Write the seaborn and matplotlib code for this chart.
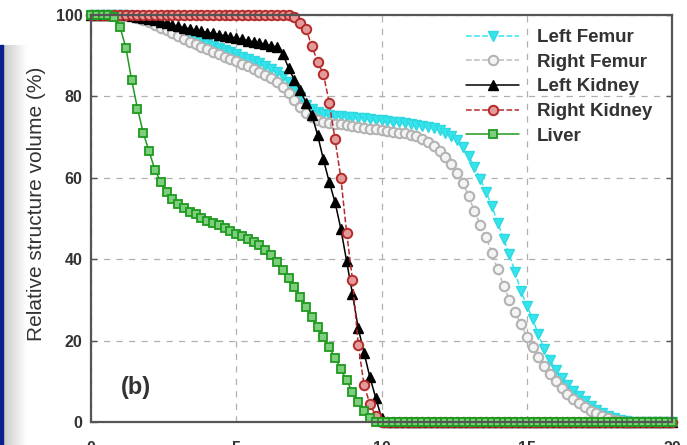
import numpy as np
import pandas as pd
import matplotlib
matplotlib.use("Agg")
import matplotlib.pyplot as plt
from matplotlib.patches import Rectangle
import seaborn as sns

# ---- data (dose in Gy, relative volume in %) ----
dose = np.round(np.arange(101) * 0.2, 1)

left_femur = [100, 100, 100, 100, 100, 100, 100, 99.8, 99.5, 99,
              98.5, 98, 97.4, 96.8, 96.2, 95.6, 95, 94.4, 93.8, 93.3,
              92.8, 92.3, 91.8, 91.3, 90.8, 90.3, 89.8, 89.2, 88.7, 88.1,
              87.5, 86.8, 86, 85, 83.6, 81.8, 79.8, 78, 76.8, 76.1,
              75.7, 75.4, 75.2, 75.1, 75, 74.9, 74.8, 74.6, 74.5, 74.3,
              74.2, 74, 73.8, 73.6, 73.4, 73.2, 73, 72.8, 72.6, 72.2,
              71.7, 71.1, 70.3, 69.2, 67.6, 65.3, 62.7, 59.8, 56.5, 53,
              49, 45, 41.2, 36.8, 32.2, 28.6, 25.4, 21.5, 18, 15.2,
              12.8, 10.8, 9.1, 7.6, 6.3, 5.1, 4, 3, 2.2, 1.5,
              1, 0.5, 0.2, 0.1, 0, 0, 0, 0, 0, 0, 0]

right_femur = [100, 100, 100, 100, 100, 100, 100, 99.7, 99.3, 98.8,
               98.2, 97.6, 96.9, 96.2, 95.5, 94.8, 94.1, 93.4, 92.8, 92.2,
               91.6, 91, 90.4, 89.8, 89.2, 88.6, 88, 87.4, 86.7, 86,
               85.3, 84.5, 83.5, 82.3, 80.8, 79, 77.4, 76, 75, 74.3,
               73.8, 73.5, 73.3, 73.1, 72.9, 72.7, 72.5, 72.3, 72.1, 71.9,
               71.7, 71.5, 71.3, 71.1, 70.9, 70.6, 70.2, 69.6, 68.8, 67.8,
               66.7, 65.2, 63.5, 61.3, 58.7, 55.5, 51.8, 48.5, 45.5, 41.5,
               37.5, 33.5, 30, 27, 24, 21, 18.5, 16, 13.8, 11.8,
               10, 8.3, 6.9, 5.6, 4.6, 3.6, 2.8, 2.1, 1.5, 1,
               0.6, 0.3, 0.1, 0, 0, 0, 0, 0, 0, 0, 0]

left_kidney = [100, 100, 100, 100, 100, 100, 99.9, 99.8, 99.6, 99.3,
               99, 98.7, 98.3, 98, 97.6, 97.2, 96.9, 96.6, 96.3, 96,
               95.7, 95.5, 95.2, 94.9, 94.6, 94.3, 94, 93.7, 93.4, 93.1,
               92.8, 92.5, 92.1, 90.5, 87, 84, 81.5, 78.5, 75.5, 70.5,
               64.5, 59, 54, 47.5, 39.5, 31.5, 23, 17, 11, 6,
               1] + [0] * 50

right_kidney = [100] * 35 + [99.5, 98, 96.5, 92.5, 88.5, 85.5, 78.5, 69.5, 60, 46.5,
                             35, 19, 9, 4.5, 1.5] + [0] * 51

liver = [100, 100, 100, 100, 99.5, 97, 92, 84, 77, 71,
         66.5, 62, 59, 56.5, 54.7, 53.5, 52.5, 51.7, 51, 50.2,
         49.5, 48.9, 48.3, 47.6, 47, 46.3, 45.6, 45, 44.3, 43.4,
         42.3, 41, 39.4, 37.4, 35.3, 33.1, 30.8, 28.3, 25.8, 23.3,
         20.9, 18.4, 15.8, 13, 10.2, 7.4, 4.9, 2.6, 0.9, 0.1] + [0] * 51

labels = ["Left Femur", "Right Femur", "Left Kidney", "Right Kidney", "Liver"]
series = [left_femur, right_femur, left_kidney, right_kidney, liver]
x_ticks = [0, 5, 10, 15, 20]
y_ticks = [0, 20, 40, 60, 80, 100]

styles = [
    dict(color="#35e4ec", marker="v", linestyle="--", mfc="#35e4ec", mec="#2ed8e0", mew=1.0, ms=6.8),
    dict(color="#bdbdbd", marker="o", linestyle="--", mfc="#f4f4f4", mec="#b3b3b3", mew=1.5, ms=6.8),
    dict(color="black", marker="^", linestyle="-", mfc="black", mec="black", mew=1.0, ms=6.5),
    dict(color="#b52a2a", marker="o", linestyle="--", mfc="#e39a9a", mec="#b52a2a", mew=1.4, ms=6.8),
    dict(color="#1e9a1e", marker="s", linestyle="-", mfc="#7fce7f", mec="#1e9a1e", mew=1.3, ms=6.0),
]

sns.set_style("white")
plt.rcParams["font.family"] = ["Liberation Sans", "DejaVu Sans"]

fig = plt.figure(figsize=(6.87, 4.45), dpi=100)

# slide border decoration on the left (drawn behind everything)
grad_ax = fig.add_axes([0, 0, 26 / 687, 400 / 445])
grad = np.linspace(0.76, 1.0, 64).reshape(1, -1)
grad_ax.imshow(grad, cmap="gray", vmin=0, vmax=1, aspect="auto", extent=[0, 1, 0, 1])
grad_ax.set_axis_off()
grad_ax.set_zorder(0)
fig.patches.append(Rectangle((0, 0), 3 / 687, 400 / 445, transform=fig.transFigure,
                             color="#0b1f8f", zorder=0.5))

ax = fig.add_axes([91 / 687, 1 - 422 / 445, (672 - 91) / 687, (422 - 15) / 445])
ax.set_zorder(2)
ax.patch.set_alpha(0)

for lab, vals, st in zip(labels, series, styles):
    df = pd.DataFrame({"dose": dose, "vol": vals})
    sns.lineplot(data=df, x="dose", y="vol", ax=ax, label=lab, color=st["color"],
                 marker=st["marker"], linestyle=st["linestyle"], linewidth=1.1,
                 markerfacecolor=st["mfc"], markeredgecolor=st["mec"],
                 markeredgewidth=st["mew"], markersize=st["ms"], clip_on=False,
                 estimator=None, sort=False)

ax.set_xlim(0, 20)
ax.set_ylim(0, 100)
ax.set_xticks(x_ticks)
ax.set_yticks(y_ticks)
ax.set_xticklabels([str(t) for t in x_ticks], fontsize=11.5, fontweight="bold", color="#333333")
ax.set_yticklabels([str(t) for t in y_ticks], fontsize=11.5, fontweight="bold", color="#333333")
ax.tick_params(axis="both", direction="in", length=4, width=1, color="#555555",
               right=True, top=False, left=True, bottom=False)
ax.tick_params(axis="x", pad=14)
ax.tick_params(axis="y", pad=6)
ax.grid(True, linestyle=(0, (5, 5)), color="#b0b0b0", linewidth=0.9)
for sp in ax.spines.values():
    sp.set_color("#555555")
    sp.set_linewidth(1.6)
    sp.set_visible(True)
ax.set_xlabel("")
ax.set_ylabel("Relative structure volume (%)", fontsize=15, color="#333333")
ax.yaxis.set_label_coords(-0.077, 0.537)

ax.text(1.55, 8.4, "(b)", fontsize=17, fontweight="bold", color="#333333",
        ha="center", va="center")

leg = ax.legend(loc="upper right", bbox_to_anchor=(0.985, 0.993), frameon=False,
                fontsize=13.5, handlelength=2.8, handletextpad=0.95, labelspacing=0.4,
                borderaxespad=0.2)
for t in leg.get_texts():
    t.set_fontweight("bold")
    t.set_color("#333333")

fig.savefig("out.png", dpi=100)
